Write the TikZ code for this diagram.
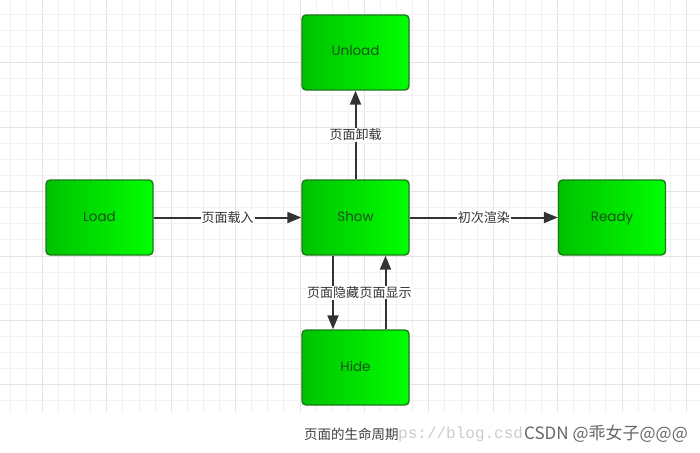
\documentclass[tikz,border=0pt]{standalone}
\usepackage{fontspec}
\setmainfont{Liberation Sans}
\newfontfamily\cjk{Noto Sans CJK SC}
\newfontfamily\boxfont{Poppins}
\newfontfamily\urlfont{Liberation Mono}
\usetikzlibrary{arrows.meta}
\definecolor{gridc}{HTML}{F1F1F1}
\definecolor{gridd}{HTML}{E4E4E4}
\definecolor{boxborder}{HTML}{1B7A1B}
\definecolor{boxleft}{HTML}{00C200}
\definecolor{boxright}{HTML}{00FF00}
\definecolor{arrc}{HTML}{333333}
\definecolor{boxtext}{HTML}{1A521A}
\tikzset{
  statebox/.style={draw=boxborder, line width=1.4pt, rounded corners=4pt,
    left color=boxleft, right color=boxright, minimum width=107pt, minimum height=75pt,
    inner sep=0pt, text height=10pt, text depth=3pt,
    font=\boxfont\fontsize{13.5}{15}\selectfont, text=boxtext},
  conn/.style={draw=arrc, line width=2pt, -{Triangle[length=14pt,width=11pt]}},
  lbl/.style={fill=white, inner sep=1pt, font=\cjk\fontsize{13}{15}\selectfont, text=arrc},
}
\begin{document}
\begin{tikzpicture}[x=1pt,y=-1pt]
\useasboundingbox (0,0) rectangle (700,452);
\fill[white] (0,0) rectangle (700,452);
% grid
\foreach \i in {-2,...,41} {
  \pgfmathsetmacro\xx{42.3+16.1*\i}
  \ifnum\i<0 \def\gc{gridc}\else\pgfmathparse{mod(\i,4)==0?1:0}\ifnum\pgfmathresult=1 \def\gc{gridd}\else\def\gc{gridc}\fi\fi
  \draw[\gc, line width=0.8pt] (\xx,0) -- (\xx,412);
}
\foreach \j in {-3,...,21} {
  \pgfmathsetmacro\yy{62.7+16.1*\j}
  \pgfmathparse{mod(\j+40,4)==0?1:0}
  \ifnum\pgfmathresult=1 \def\gc{gridd}\else\def\gc{gridc}\fi
  \draw[\gc, line width=0.8pt] (0,\yy) -- (700,\yy);
}
% nodes
\node[statebox] (load) at (99.5,217.5) {Load};
\node[statebox] (show) at (355.5,217.5) {Show};
\node[statebox] (unload) at (355.5,52.5) {Unload};
\node[statebox] (ready) at (612,217.5) {Ready};
\node[statebox] (hide) at (355.5,367.5) {Hide};
% connectors
\draw[conn] (load.east) -- node[lbl] {页面载入} (show.west);
\draw[conn] (show.east) -- node[lbl] {初次渲染} (ready.west);
\draw[conn] (show.north) -- node[lbl] {页面卸载} (unload.south);
\draw[conn] ([xshift=-22.5pt]show.south) -- node[lbl] {页面隐藏} ([xshift=-22.5pt]hide.north);
\draw[conn] ([xshift=30pt]hide.north) -- node[lbl] {页面显示} ([xshift=30pt]show.south);
% caption and watermark
\node[anchor=west, inner sep=0pt, text=black!20, font=\urlfont\fontsize{16}{18}\selectfont] (url) at (398,434) {ps://blog.csd};
\node[anchor=west, inner sep=0pt, fill=white, text=black!75, font=\cjk\fontsize{13.5}{15}\selectfont] (cap) at (304,434) {页面的生命周期};
\node[anchor=west, inner sep=0pt, text=black!60, font=\cjk\fontsize{17}{19}\selectfont] (wm) at (524,434) {CSDN @乖女子@@@};
\end{tikzpicture}
\end{document}
